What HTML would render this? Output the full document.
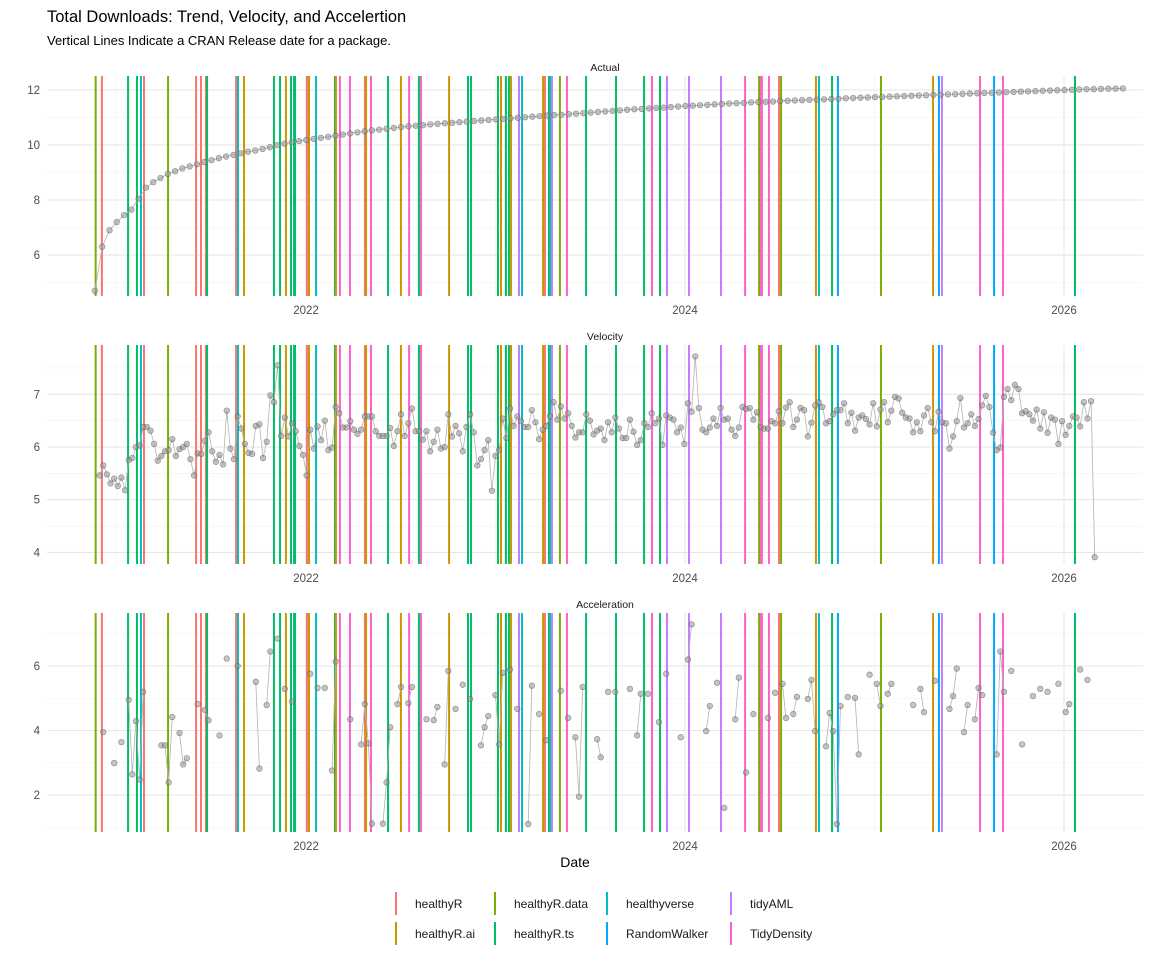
<!DOCTYPE html>
<html><head><meta charset="utf-8"><style>
html,body{margin:0;padding:0;background:#fff;}
svg{display:block;font-family:"Liberation Sans",sans-serif;}
</style></head><body>
<svg id="chart" width="1152" height="960" viewBox="0 0 1152 960" xmlns="http://www.w3.org/2000/svg">
<text x="47" y="22" font-size="16.5" fill="#000">Total Downloads: Trend, Velocity, and Accelertion</text>
<text x="47" y="45" font-size="13" fill="#000">Vertical Lines Indicate a CRAN Release date for a package.</text>
<text x="575" y="867" font-size="14" text-anchor="middle" fill="#000">Date</text>
<g id="panels"></g>
<g id="legend"></g>
</svg>
<script>
const packages = ["healthyR","healthyR.ai","healthyR.data","healthyR.ts","healthyverse","RandomWalker","tidyAML","TidyDensity"];
const pkgColors = ["#F8766D","#CD9600","#7CAE00","#00BE67","#00BFC4","#00A9FF","#C77CFF","#FF61CC"];
const releaseYears = [2020.890,2020.923,2021.061,2021.108,2021.129,2021.145,2021.272,2021.420,2021.446,2021.472,2021.478,2021.631,2021.641,2021.673,2021.831,2021.863,2021.894,2021.921,2021.937,2021.942,2022.005,2022.016,2022.053,2022.153,2022.158,2022.179,2022.232,2022.311,2022.317,2022.343,2022.433,2022.501,2022.544,2022.596,2022.607,2022.755,2022.855,2022.871,2023.013,2023.029,2023.055,2023.071,2023.082,2023.124,2023.140,2023.251,2023.261,2023.282,2023.293,2023.298,2023.340,2023.377,2023.478,2023.636,2023.784,2023.826,2023.868,2023.905,2024.021,2024.190,2024.317,2024.391,2024.401,2024.406,2024.443,2024.496,2024.507,2024.691,2024.707,2024.776,2024.807,2025.034,2025.309,2025.340,2025.356,2025.557,2025.631,2025.678,2026.058];
const releasePkgs = ["healthyR.data","healthyR","healthyR.ts","healthyR.ts","healthyverse","healthyR","healthyR.data","healthyR","healthyR","healthyR","healthyR.ts","healthyR","healthyverse","healthyR.ai","healthyR.ts","healthyR.ts","healthyR.ai","healthyR.ts","healthyR.ts","healthyR.ts","healthyR","healthyR.ai","healthyverse","healthyR.ts","healthyR.ai","TidyDensity","TidyDensity","healthyR","healthyR.ai","TidyDensity","healthyR.ts","healthyR.ai","TidyDensity","healthyR.ts","TidyDensity","healthyR.ai","healthyR.ts","healthyR.ts","healthyR.ts","healthyR.ai","healthyR.ts","healthyR.ts","healthyR.ai","tidyAML","healthyverse","healthyR.ai","healthyR","healthyR.ts","healthyverse","tidyAML","healthyR.data","TidyDensity","healthyR.ts","healthyR.ts","healthyR.ts","TidyDensity","healthyR.ts","tidyAML","tidyAML","tidyAML","TidyDensity","healthyR.data","TidyDensity","TidyDensity","TidyDensity","healthyR","healthyR.data","healthyR.ai","healthyverse","healthyR.ts","RandomWalker","healthyR.data","healthyR.ai","RandomWalker","tidyAML","TidyDensity","RandomWalker","TidyDensity","healthyR.ts"];

const actualStart = 2020.886, actualEnd = 2026.311;
const actualValues = [4.7,6.3,6.9,7.2,7.45,7.65,8.05,8.45,8.65,8.8,8.95,9.05,9.15,9.22,9.3,9.38,9.45,9.52,9.58,9.64,9.7,9.76,9.8,9.86,9.92,10.0,10.05,10.1,10.14,10.18,10.22,10.26,10.3,10.34,10.38,10.42,10.46,10.5,10.53,10.56,10.59,10.62,10.65,10.68,10.7,10.72,10.75,10.77,10.79,10.81,10.83,10.85,10.87,10.89,10.91,10.93,10.95,10.97,10.99,11.01,11.03,11.05,11.07,11.09,11.1,11.12,11.14,11.16,11.18,11.2,11.22,11.24,11.26,11.28,11.3,11.31,11.33,11.35,11.36,11.38,11.4,11.42,11.43,11.45,11.46,11.48,11.49,11.51,11.52,11.53,11.55,11.56,11.57,11.58,11.6,11.61,11.62,11.63,11.64,11.65,11.66,11.67,11.68,11.7,11.71,11.72,11.73,11.74,11.75,11.76,11.77,11.78,11.79,11.8,11.81,11.82,11.83,11.84,11.85,11.86,11.87,11.88,11.89,11.9,11.91,11.92,11.93,11.94,11.95,11.96,11.97,11.98,11.99,12.0,12.01,12.02,12.03,12.03,12.04,12.05,12.05,12.06];

const weeklyStart = 2020.911;
const velocityValues = [5.46,5.65,5.48,5.31,5.40,5.26,5.42,5.18,5.75,5.79,6.0,6.03,6.38,6.38,6.31,6.06,5.74,5.83,5.92,5.94,6.15,5.83,5.96,6.0,6.06,5.77,5.46,5.88,5.87,6.12,6.28,5.92,5.72,5.85,5.67,6.69,5.97,5.77,6.58,6.35,6.06,5.89,5.87,6.4,6.43,5.79,6.1,6.98,6.85,7.55,6.21,6.56,6.2,6.45,6.3,6.02,5.85,5.46,6.33,5.97,6.39,6.13,6.5,5.94,5.99,6.76,6.64,6.37,6.37,6.49,6.33,6.25,6.33,6.58,6.58,6.58,6.3,6.21,6.21,6.21,6.36,6.02,6.3,6.62,6.21,6.45,6.73,6.3,6.3,6.14,6.3,5.92,6.1,6.33,
5.97,6.0,6.62,6.2,6.4,6.26,5.92,6.38,6.62,6.28,5.65,5.77,5.94,6.13,5.17,5.83,5.94,6.54,6.17,6.73,6.4,6.58,6.49,6.38,6.38,6.7,6.47,6.15,6.33,6.4,6.58,6.85,6.52,6.77,6.54,6.64,6.4,6.18,6.28,6.28,6.62,6.5,6.24,6.31,6.35,6.13,6.47,6.28,6.56,6.35,6.17,6.17,6.52,6.29,6.04,6.13,6.45,6.38,6.64,6.45,6.54,6.04,6.6,6.56,6.52,6.28,6.37,6.06,6.83,6.67,7.72,6.74,6.33,6.28,6.37,6.54,6.4,6.74,6.52,6.54,6.33,6.21,6.37,6.76,6.72,6.74,6.52,6.66,6.38,6.35,6.35,6.49,6.45,6.68,6.45,6.75,
6.85,6.38,6.52,6.74,6.7,6.2,6.46,6.79,6.85,6.76,6.45,6.49,6.62,6.7,6.7,6.83,6.45,6.65,6.31,6.56,6.6,6.53,6.43,6.83,6.39,6.71,6.85,6.47,6.69,6.95,6.92,6.65,6.56,6.54,6.28,6.47,6.3,6.6,6.74,6.47,6.3,6.67,6.47,6.45,5.97,6.2,6.49,6.93,6.37,6.45,6.62,6.4,6.53,6.79,6.97,6.76,6.27,5.94,5.99,6.95,7.1,6.89,7.18,7.1,6.64,6.68,6.62,6.5,6.71,6.35,6.66,6.27,6.56,6.52,6.06,6.49,6.23,6.4,6.58,6.56,6.39,6.85,6.54,6.87,3.91];

// acceleration: week index (same weekly grid as velocity) and value
const accelWeeks = [1,4,6,8,9,10,11,12,17,18,19,20,22,23,24,27,29,30,33,35,38,43,44,46,47,49,51,53,58,60,62,64,65,69,72,73,74,75,78,79,80,82,83,85,86,90,92,93,95,96,98,100,102,105,106,107,109,110,111,113,115,118,119,121,123,127,129,131,132,133,137,138,140,142,146,148,149,151,154,156,160,162,163,167,168,170,172,175,176,178,180,184,186,188,189,191,192,195,196,197,200,201,202,203,204,206,208,209,212,214,215,217,218,224,226,227,230,234,235,236,238,239,241,242,243,247,248,249,251,254,257,259,261,264,266,267,270,272];
const accelValues = [3.95,2.99,3.64,4.95,2.64,4.29,2.48,5.2,3.54,3.54,2.39,4.42,3.92,2.95,3.14,4.82,4.64,4.32,3.85,6.23,6.0,5.51,2.82,4.79,6.45,6.85,5.29,4.9,5.76,5.32,5.32,2.76,6.14,4.35,3.57,4.82,3.6,1.11,1.11,2.39,4.1,4.82,5.35,4.85,5.35,4.35,4.32,4.73,2.95,5.85,4.67,5.42,4.98,3.54,4.1,4.45,5.1,3.57,5.79,5.89,4.67,1.1,5.39,4.51,3.7,5.23,4.39,3.79,1.95,5.35,3.73,3.17,5.2,5.2,5.29,3.85,5.14,5.14,4.26,5.76,3.79,6.2,7.29,3.98,4.76,5.48,1.6,4.35,5.64,2.7,4.51,4.39,5.17,5.45,4.39,4.51,5.04,4.98,5.57,3.98,3.51,4.54,3.98,1.1,4.76,5.04,5.01,3.26,5.73,5.45,4.76,5.14,5.45,4.79,5.29,4.57,5.54,4.67,5.07,5.92,3.95,4.79,4.35,5.32,5.1,3.26,6.45,5.2,5.85,3.57,5.07,5.29,5.2,5.45,4.57,4.82,5.89,5.57];

const panelTitles = ["Actual","Velocity","Acceleration"];
const actualTicks = [6,8,10,12];
const velocityTicks = [4,5,6,7];
const accelTicks = [2,4,6];
const xTickYears = [2022,2024,2026];

const NS = "http://www.w3.org/2000/svg";
const WEEK = 7/365.25;
function xs(yr){ return 306 + (yr-2022)*189.5; }
function mk(tag, attrs, parent){ const e=document.createElementNS(NS,tag); for(const k in attrs) e.setAttribute(k,attrs[k]); parent.appendChild(e); return e; }
const root = document.getElementById('panels');
const PX0 = 47, PX1 = 1143;

const panels = [
  {top:76,bottom:296,ys:v=>145-(v-10)*27.5,ticks:actualTicks,minor:[5,7,9,11],title:"Actual",key:"actual"},
  {top:345,bottom:564,ys:v=>447-(v-6)*52.7,ticks:velocityTicks,minor:[4.5,5.5,6.5,7.5],title:"Velocity",key:"velocity"},
  {top:613,bottom:832,ys:v=>666-(v-6)*32.25,ticks:accelTicks,minor:[1,3,5,7],title:"Acceleration",key:"acceleration"}
];

panels.forEach((p,pi)=>{
  const g = mk('g',{},root);
  
  
  // minor horizontal grid
  p.minor.forEach(v=>{ const y=p.ys(v); if(y>p.top&&y<p.bottom){ const l=mk('line',{x1:PX0,x2:PX1,y1:y,y2:y,stroke:'#f0f0f0','stroke-width':0.6},g);
      }});
  [2021,2023,2025].forEach(yr=>{ const x=xs(yr); const l=mk('line',{x1:x,x2:x,y1:p.top,y2:p.bottom,stroke:'#f0f0f0','stroke-width':0.6},g);
      });
  p.ticks.forEach(v=>{ const y=p.ys(v); const l=mk('line',{x1:PX0,x2:PX1,y1:y,y2:y,stroke:'#e6e6e6','stroke-width':1.1},g);
     
    const t=mk('text',{x:40,y:y+4,'font-size':11.5,'text-anchor':'end',fill:'#4d4d4d'},g); t.textContent=v;
      });
  xTickYears.forEach(yr=>{ const x=xs(yr); const l=mk('line',{x1:x,x2:x,y1:p.top,y2:p.bottom,stroke:'#e6e6e6','stroke-width':1.1},g);
     
    const t=mk('text',{x:x,y:p.bottom+18,'font-size':11.5,'text-anchor':'middle',fill:'#4d4d4d'},g); t.textContent=yr;
      });
  const st=mk('text',{x:605,y:p.top-5,'font-size':10.5,'text-anchor':'middle',fill:'#1a1a1a'},g); st.textContent=p.title;
   
  // release lines
  releaseYears.forEach((yr,i)=>{ const x=xs(yr); const c=pkgColors[packages.indexOf(releasePkgs[i])];
    const l=mk('line',{x1:x,x2:x,y1:p.top,y2:p.bottom,stroke:c,'stroke-width':2},g);
      });
  // series
  let pts=[];
  if(p.key==='actual'){ const step=(actualEnd-actualStart)/(actualValues.length-1);
    pts = actualValues.map((v,i)=>[actualStart+i*step, v, i]); }
  else if(p.key==='velocity'){ pts = velocityValues.map((v,i)=>[weeklyStart+i*WEEK, v, i]); }
  else { pts = accelValues.map((v,i)=>[weeklyStart+accelWeeks[i]*WEEK, v, accelWeeks[i]]); }
  // lines (connect consecutive)
  let d='';
  pts.forEach((pt,i)=>{ const x=xs(pt[0]), y=p.ys(pt[1]);
    const cont = i>0 && (p.key!=='acceleration' || pt[2]-pts[i-1][2]===1);
    d += (cont?'L':'M')+x.toFixed(1)+' '+y.toFixed(1)+' '; });
  const path=mk('path',{d:d,fill:'none',stroke:'#b3b3b3','stroke-width':0.8},g);
  
  
  pts.forEach(pt=>{ const c=mk('circle',{cx:xs(pt[0]),cy:p.ys(pt[1]),r:2.8,fill:'rgba(150,150,150,0.55)',stroke:'rgba(90,90,90,0.6)','stroke-width':0.7},g);
    
     });
});

// legend
const lg = document.getElementById('legend');
const legendOrder = [["healthyR","healthyR.data","healthyverse","tidyAML"],["healthyR.ai","healthyR.ts","RandomWalker","TidyDensity"]];
const colX = [396,495,607,731];
legendOrder.forEach((row,ri)=>{ row.forEach((name,ci)=>{
  const y0 = 892 + ri*30;
  const l=mk('line',{x1:colX[ci],x2:colX[ci],y1:y0,y2:y0+23,stroke:pkgColors[packages.indexOf(name)],'stroke-width':2},lg);
  
  
  const t=mk('text',{x:colX[ci]+19,y:y0+16,'font-size':12,fill:'#1a1a1a'},lg); t.textContent=name;
  
  
});});
</script>
</body></html>
